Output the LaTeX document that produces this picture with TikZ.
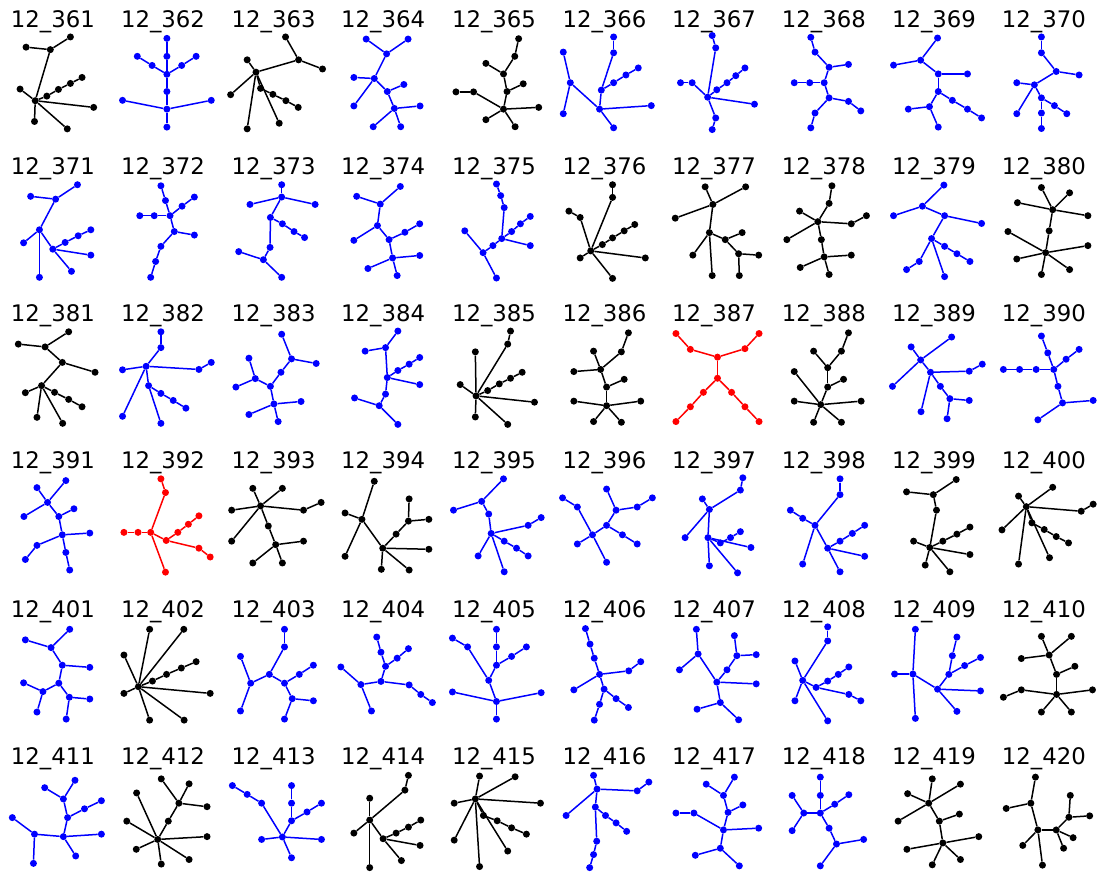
\documentclass[tikz,border=0pt]{standalone}
\usepackage{fontspec}
\setmainfont{DejaVu Sans}
\tikzset{
  dot/.style={circle,inner sep=0pt,minimum size=7pt,draw=none},
  ln/.style={line width=1.5pt},
  ttl/.style={anchor=base,inner sep=0pt,font=\fontsize{22.8}{27}\selectfont,text=black},
  zs/.style={x=0.3521pt,y=-0.3521pt}
}
\newcommand\gr[4]{%
  \foreach \n/\x/\y in {#3} \node[dot,fill=#2] (g#1\n) at (\x,\y) {};
  \foreach \p/\q in {#4} \draw[ln,#2] (g#1\p) -- (g#1\q);
}
\newcommand\ttlrow[3]{%
  \foreach \i/\tx in {#3} \node[ttl] (h\i) at (\tx,#2) {12\_\i};
}
\begin{document}
\begin{tikzpicture}
\useasboundingbox (0pt,0pt) rectangle (1105pt,-878pt);
% ---------------- row 1 left
\begin{scope}[shift={(0pt,6pt)},zs]
\ttlrow{}{95}{361/150,362/463,363/777,364/1088,365/1403}
\gr{361}{black}{a/200/122,b/143/158,c/74/151,d/100/303,e/57/270,f/133/290,g/166/271,h/200/254,i/233/237,j/266/322,k/98/362,l/191/383}{a/b,c/b,b/d,d/e,d/f,f/g,g/h,h/i,d/j,d/k,d/l}
\gr{362}{blue}{a/474/126,b/474/177,c/390/177,d/432/203,e/474/228,f/516/203,g/557/177,h/474/277,i/474/327,j/348/302,k/600/302,l/474/378}{a/b,b/e,c/d,d/e,e/f,f/g,e/h,h/i,i/j,i/k,i/l}
\gr{363}{black}{a/811/122,b/848/187,c/916/213,d/702/187,e/727/222,f/655/286,g/740/268,h/775/285,i/812/303,j/847/322,k/793/367,l/702/383}{a/b,b/c,b/e,d/e,e/f,e/g,g/h,h/i,i/j,e/k,e/l}
\gr{364}{blue}{a/1040/128,b/1159/128,c/1098/170,d/1063/240,e/1005/237,f/1005/318,g/1100/277,h/1147/257,i/1120/325,j/1193/318,k/1060/377,l/1138/377}{a/c,b/c,c/d,d/e,d/f,d/g,g/h,g/i,i/j,i/k,i/l}
\gr{365}{black}{a/1473/127,b/1462/177,c/1380/197,d/1430/227,e/1440/277,f/1486/255,g/1295/278,h/1345/278,i/1430/327,j/1530/322,k/1380/357,l/1463/377}{a/b,b/d,c/d,d/e,e/f,e/i,g/h,h/i,i/j,i/k,i/l}
\end{scope}
% ---------------- row 1 right
\begin{scope}[shift={(552pt,6pt)},zs]
\ttlrow{}{95}{366/149,367/460,368/772,369/1085,370/1397}
\gr{366}{blue}{a/175/122,b/175/167,c/32/165,d/52/252,e/140/273,f/175/252,g/210/230,h/245/210,i/135/327,j/282/317,k/32/340,l/175/380}{a/b,b/e,e/f,f/g,g/h,e/i,c/d,d/i,d/k,i/j,i/l}
\gr{367}{blue}{a/455/118,b/465/153,c/365/252,d/398/252,e/442/293,f/468/272,g/497/252,h/522/232,i/548/210,j/575/313,k/465/352,l/455/385}{a/b,b/e,c/d,d/e,e/f,f/g,g/h,h/i,e/j,e/k,k/l}
\gr{368}{blue}{a/735/123,b/747/165,c/787/208,d/842/200,e/688/252,f/732/252,g/773/252,h/787/295,i/842/305,j/877/332,k/747/338,l/735/380}{a/b,b/c,c/d,c/g,e/f,f/g,g/h,h/i,i/j,h/k,k/l}
\gr{369}{blue}{a/1095/125,b/1047/188,c/970/202,d/1097/227,e/1180/227,f/1097/277,g/1137/302,h/1180/327,i/1220/352,j/1072/320,k/1012/327,l/1097/378}{a/b,c/b,b/d,d/e,d/f,f/g,g/h,h/i,f/j,j/k,j/l}
\gr{370}{blue}{a/1390/122,b/1390/167,c/1432/220,d/1497/230,e/1370/258,f/1320/252,g/1320/340,h/1390/295,i/1427/317,j/1462/340,k/1390/338,l/1390/382}{a/b,b/c,c/d,c/e,f/e,e/g,e/h,h/i,i/j,h/k,k/l}
\end{scope}
% ---------------- row 2 left
\begin{scope}[shift={(0pt,-140pt)},zs]
\ttlrow{}{97}{371/150,372/463,373/777,374/1088,375/1403}
\gr{371}{blue}{a/220/127,b/158/168,c/87/160,d/112/255,e/67/292,f/150/310,g/185/291,h/222/272,i/258/255,j/258/327,k/203/373,l/112/390}{a/b,c/b,b/d,d/e,d/f,f/g,g/h,h/i,f/j,f/k,d/l}
\gr{372}{blue}{a/457/130,b/470/172,c/483/215,d/397/215,e/438/215,f/517/188,g/552/162,h/495/260,i/552/270,j/457/302,k/442/345,l/428/390}{a/b,b/c,d/e,e/c,c/f,f/g,c/h,h/i,h/j,j/k,k/l}
\gr{373}{blue}{a/800/127,b/800/162,c/710/183,d/895/183,e/768/220,f/802/238,g/835/260,h/865/277,i/767/305,j/678/317,k/748/340,l/800/390}{a/b,b/c,b/d,b/e,e/f,f/g,g/h,e/i,i/k,j/k,k/l}
\gr{374}{blue}{a/1013/160,b/1080/182,c/1137/132,d/1072/243,e/1005/285,f/1105/283,g/1150/262,h/1192/238,i/1115/335,j/1192/328,k/1045/365,l/1128/385}{a/b,c/b,b/d,d/e,d/f,f/g,g/h,f/i,i/j,i/k,i/l}
\gr{375}{blue}{a/1410/125,b/1422/158,c/1432/192,d/1425/280,e/1453/260,f/1478/238,g/1506/217,h/1506/300,i/1400/300,j/1372/320,k/1320/258,l/1410/392}{a/b,b/c,c/d,d/e,e/f,f/g,d/h,d/i,i/j,k/j,j/l}
\end{scope}
% ---------------- row 2 right
\begin{scope}[shift={(552pt,-140pt)},zs]
\ttlrow{}{97}{376/149,377/460,378/772,379/1085,380/1397}
\gr{376}{black}{a/172/127,b/172/163,c/48/202,d/80/220,e/110/315,f/143/297,g/172/278,h/205/258,i/235/240,j/265/335,k/80/335,l/172/393}{a/b,b/e,c/d,d/e,e/f,f/g,g/h,h/i,e/j,e/k,e/l}
\gr{377}{black}{a/435/133,b/550/133,c/457/183,d/350/222,e/447/263,f/400/327,g/455/385,h/492/283,i/540/263,j/530/323,k/587/327,l/532/385}{a/c,b/c,c/d,c/e,e/f,e/g,e/h,h/i,h/j,j/k,j/l}
\gr{378}{black}{a/795/130,b/787/180,c/703/202,d/755/232,e/850/238,f/893/215,g/667/283,h/765/283,i/773/332,j/850/327,k/705/362,l/787/382}{a/b,b/d,c/d,d/e,e/f,d/g,d/h,h/i,i/j,i/k,i/l}
\gr{379}{blue}{a/1113/128,b/1052/188,c/970/215,d/1115/215,e/1220/237,f/1078/280,g/1115/302,h/1150/323,i/1187/345,j/1043/345,k/1007/368,l/1115/388}{a/b,c/b,b/d,d/e,d/f,f/g,g/h,h/i,f/j,j/k,f/l}
\gr{380}{black}{a/1390/135,b/1470/150,c/1322/178,d/1422/198,e/1522/215,f/1412/258,g/1295/260,h/1402/320,i/1522/300,j/1320/338,k/1390/382,l/1470/368}{a/d,b/d,c/d,d/e,d/f,f/h,g/h,h/i,h/j,h/k,h/l}
\end{scope}
% ---------------- row 3 left
\begin{scope}[shift={(0pt,-286pt)},zs]
\ttlrow{}{100}{381/150,382/463,383/777,384/1088,385/1403}
\gr{381}{black}{a/195/130,b/128/173,c/52/165,d/177/217,e/270/245,f/118/283,g/72/303,h/155/302,i/195/322,j/233/343,k/105/373,l/178/390}{a/b,c/b,b/d,d/e,d/f,f/g,f/h,h/i,i/j,f/k,f/l}
\gr{382}{blue}{a/457/130,b/457/175,c/415/228,d/348/238,e/565/237,f/600/217,g/422/283,h/457/305,i/492/325,j/528/347,k/348/370,l/457/390}{a/b,b/c,c/d,c/e,e/f,c/g,g/h,h/i,i/j,c/k,g/l}
\gr{383}{blue}{a/800/137,b/828/207,c/898/220,d/798/245,e/768/285,f/707/205,g/725/263,h/670/287,i/778/335,j/855/328,k/707/365,l/790/385}{a/b,b/c,b/d,d/e,f/g,g/e,h/g,e/i,i/j,i/k,i/l}
\gr{384}{blue}{a/1130/128,b/1095/175,c/1037/185,d/1100/260,e/1130/240,f/1162/222,g/1192/203,h/1192/280,i/1095/307,j/1077/340,k/1007/318,l/1130/393}{a/b,c/b,b/d,d/e,e/f,f/g,d/h,d/i,i/j,k/j,j/l}
\gr{385}{black}{a/1450/128,b/1442/165,c/1350/187,d/1352/312,e/1307/280,f/1385/297,g/1418/278,h/1450/262,i/1483/245,j/1518/330,k/1350/372,l/1442/393}{a/b,b/d,c/d,e/d,d/f,f/g,g/h,h/i,d/j,d/k,d/l}
\end{scope}
% ---------------- row 3 right
\begin{scope}[shift={(552pt,-286pt)},zs]
\ttlrow{}{100}{386/149,387/460,388/772,389/1085,390/1397}
\gr{386}{black}{a/217/133,b/197/187,c/118/185,d/138/237,e/62/243,f/155/287,g/205/265,h/155/340,i/62/327,j/252/327,k/118/385,l/197/387}{a/b,b/d,c/d,e/d,d/f,f/g,f/h,h/i,h/j,h/k,h/l}
\gr{387}{red}{a/352/135,b/393/180,c/470/202,d/548/178,e/588/135,f/470/262,g/430/302,h/393/343,i/352/385,j/510/302,k/548/343,l/588/385}{a/b,b/c,c/d,d/e,c/f,f/g,g/h,h/i,f/j,j/k,k/l}
\gr{388}{black}{a/842/133,b/822/185,c/743/185,d/783/232,e/828/265,f/783/287,g/688/243,h/688/327,i/763/337,j/878/327,k/743/387,l/822/387}{a/b,b/d,c/d,d/f,f/e,f/i,g/i,h/i,i/j,i/k,i/l}
\gr{389}{blue}{a/1020/173,b/1135/145,c/1047/210,d/967/285,e/1075/245,f/1185/242,g/1222/222,h/1103/285,i/1130/320,j/1185/325,k/1048/357,l/1122/377}{a/c,b/c,c/d,c/e,e/f,f/g,e/h,h/i,i/j,i/l,e/k}
\gr{390}{blue}{a/1390/142,b/1408/190,c/1497/180,d/1460/208,e/1282/237,f/1328/237,g/1375/237,h/1425/237,i/1437/285,j/1450/332,k/1537/325,l/1380/380}{a/b,b/h,c/d,d/h,e/f,f/g,g/h,h/i,i/j,j/k,j/l}
\end{scope}
% ---------------- row 4 left
\begin{scope}[shift={(0pt,-432pt)},zs]
\ttlrow{}{105}{391/150,392/463,393/777,394/1088,395/1403}
\gr{391}{blue}{a/105/158,b/187/138,c/135/200,d/68/240,e/167/240,f/210/218,g/177/292,h/255/287,i/105/322,j/72/362,k/187/342,l/198/392}{a/c,b/c,c/d,c/e,e/f,e/g,g/h,g/i,i/j,g/k,k/l}
\gr{392}{red}{a/457/133,b/470/172,c/428/285,d/352/285,e/392/285,f/472/308,g/505/285,h/535/262,i/565/238,j/565/330,k/597/355,l/470/398}{a/b,b/c,d/e,e/c,c/f,f/g,g/h,h/i,f/j,j/k,c/l}
\gr{393}{black}{a/718/160,b/802/160,c/740/210,d/658/222,e/862/222,f/912/200,g/762/267,h/783/320,i/862/310,j/658/310,k/718/372,l/802/372}{a/c,b/c,d/c,c/e,e/f,c/j,c/g,g/h,h/i,h/k,h/l}
\gr{394}{black}{a/1063/140,b/980/230,c/1028/248,d/980/353,e/1162/190,f/1160/253,g/1218/248,h/1125/290,i/1087/330,j/1218/333,k/1083/390,l/1162/392}{a/c,b/c,c/d,c/i,e/f,f/g,f/h,h/i,i/j,i/k,i/l}
\gr{395}{blue}{a/1430/133,b/1368/197,c/1288/222,d/1388/233,e/1395/288,f/1500/265,g/1537/243,h/1432/310,i/1467/330,j/1500/352,k/1358/352,l/1432/397}{a/b,c/b,b/d,d/e,e/f,f/g,e/h,h/i,i/j,e/k,e/l}
\end{scope}
% ---------------- row 4 right
\begin{scope}[shift={(552pt,-432pt)},zs]
\ttlrow{}{105}{396/149,397/460,398/772,399/1085,400/1397}
\gr{396}{blue}{a/30/187,b/72/213,c/155/162,d/182/222,e/242/213,f/285/187,g/155/265,h/115/292,i/72/318,j/200/292,k/242/318,l/155/370}{a/b,b/h,c/d,d/e,e/f,d/g,g/h,g/j,j/k,h/i,h/l}
\gr{397}{blue}{a/542/130,b/535/165,c/427/190,d/447/220,e/378/300,f/443/300,g/478/315,h/507/300,i/535/283,j/565/328,k/447/380,l/527/400}{a/b,b/d,c/d,d/e,d/f,f/g,g/h,h/i,f/j,f/k,f/l}
\gr{398}{blue}{a/818/133,b/818/178,c/677/222,d/712/245,e/747/265,f/712/375,g/783/330,h/818/310,i/853/288,j/888/265,k/888/353,l/818/397}{a/b,b/e,c/d,d/e,e/f,e/g,g/h,h/i,i/j,g/k,g/l}
\gr{399}{black}{a/1148/135,b/1083/178,c/1007/170,d/1092/222,e/1027/310,f/1073/328,g/1110/310,h/1150/290,i/1187/270,j/1187/348,k/1060/378,l/1130/397}{a/b,c/b,b/d,d/f,e/f,f/g,g/h,h/i,f/j,f/k,f/l}
\gr{400}{black}{a/1422/157,b/1325/182,c/1347/212,d/1503/225,e/1537/205,f/1278/278,g/1363/258,h/1398/277,i/1432/297,j/1467/315,k/1413/357,l/1325/375}{a/c,b/c,c/d,d/e,c/f,c/g,g/h,h/i,i/j,c/k,c/l}
\end{scope}
% ---------------- row 5 left
\begin{scope}[shift={(0pt,-580pt)},zs]
\ttlrow{}{107}{401/150,402/463,403/777,404/1088,405/1403}
\gr{401}{blue}{a/198/140,b/72/170,c/145/192,d/177/242,e/255/248,f/167/293,g/67/292,h/122/317,i/105/375,j/197/333,k/255/338,l/188/395}{a/c,b/c,c/d,d/e,d/f,f/h,g/h,h/i,f/j,j/k,j/l}
\gr{402}{black}{a/425/140,b/522/140,c/352/213,d/393/303,e/352/322,f/433/287,g/473/268,h/515/250,i/557/232,j/597/322,k/425/398,l/523/398}{d/a,d/b,d/c,d/e,d/f,f/g,g/h,h/i,d/j,d/k,d/l}
\gr{403}{blue}{a/808/140,b/808/190,c/683/217,d/765/268,e/712/293,f/683/372,g/808/293,h/850/268,i/890/242,j/830/337,k/890/343,l/808/395}{a/b,b/d,c/e,e/d,e/f,d/g,g/h,h/i,g/j,j/k,j/l}
\gr{404}{blue}{a/1070/162,b/1082/205,c/1095/245,d/1128/222,e/1160/195,f/968/247,g/1025/297,h/1082/288,i/1162/298,j/1195/325,k/1228/348,l/1055/372}{a/b,b/c,c/d,d/e,c/h,f/g,g/h,h/i,i/j,j/k,g/l}
\gr{405}{blue}{a/1410/140,b/1410/190,c/1410/242,d/1453/217,e/1495/190,f/1285/165,g/1328/190,h/1388/285,i/1410/345,j/1285/318,k/1537/320,l/1410/395}{a/b,b/c,c/d,d/e,c/h,f/g,g/h,h/i,i/j,i/k,i/l}
\end{scope}
% ---------------- row 5 right
\begin{scope}[shift={(552pt,-580pt)},zs]
\ttlrow{}{107}{406/149,407/460,408/772,409/1085,410/1397}
\gr{406}{blue}{a/95/138,b/108/182,c/120/222,d/135/268,e/218/258,f/252/232,g/62/312,h/148/310,i/182/337,j/217/362,k/135/353,l/120/398}{a/b,b/c,c/d,d/e,e/f,d/g,d/h,h/i,i/j,h/k,k/l}
\gr{407}{blue}{a/410/140,b/415/210,c/362/255,d/468/290,e/518/158,f/525/215,g/580/212,h/497/255,i/580/295,j/478/348,k/412/367,l/530/397}{a/b,b/c,b/d,e/f,f/g,f/h,h/d,d/i,d/j,j/k,j/l}
\gr{408}{blue}{a/783/133,b/783/173,c/690/230,d/712/285,e/690/343,f/750/305,g/783/287,h/813/268,i/843/247,j/843/325,k/877/343,l/783/400}{a/b,b/d,c/d,d/e,d/f,f/g,g/h,h/i,f/j,j/k,d/l}
\gr{409}{blue}{a/1032/140,b/1025/267,c/973/267,d/1032/393,e/1150/162,f/1137/215,g/1127/268,h/1172/243,i/1217/220,j/1095/310,k/1217/315,l/1150/373}{a/b,c/b,b/d,b/j,e/f,f/g,g/j,g/h,h/i,j/k,j/l}
\gr{410}{black}{a/1390/160,b/1475/160,c/1412/213,d/1333/223,e/1433/268,f/1485/245,g/1433/325,h/1333/312,i/1282/333,j/1535/312,k/1390/375,l/1475/375}{a/c,b/c,d/c,c/e,e/f,e/g,g/h,h/i,g/j,g/k,g/l}
\end{scope}
% ---------------- row 6 left
\begin{scope}[shift={(0pt,-725pt)},zs]
\ttlrow{}{112}{411/150,412/463,413/777,414/1088,415/1403}
\gr{411}{blue}{a/213/157,b/127/178,c/180/210,d/192/263,e/240/238,f/288/215,g/35/263,h/98/310,i/180/317,j/288/310,k/95/393,l/215/372}{a/c,b/c,c/d,d/e,e/f,d/i,g/h,h/i,h/k,i/j,i/l}
\gr{412}{black}{a/458/153,b/537/167,c/508/222,d/388/193,e/588/232,f/478/273,g/360/273,h/448/325,i/588/317,j/387/353,k/537/382,l/458/395}{a/c,b/c,c/e,c/f,f/h,d/h,g/h,h/i,h/j,h/k,h/l}
\gr{413}{blue}{a/660/172,b/702/197,c/743/222,d/828/172,e/828/222,f/828/272,g/872/247,h/913/222,i/802/318,j/743/325,k/913/325,l/828/377}{a/b,b/c,c/i,d/e,e/f,f/g,g/h,f/i,i/j,i/k,i/l}
\gr{414}{black}{a/1160/143,b/1150/185,c/1050/208,d/1050/270,e/1005/307,f/1088/323,g/1125/307,h/1160/290,i/1195/270,j/1193/342,k/1140/385,l/1050/405}{a/b,b/d,c/d,d/e,d/f,f/g,g/h,h/i,f/j,f/k,d/l}
\gr{415}{black}{a/1362/145,b/1463/147,c/1350/210,d/1290/222,e/1535/222,f/1373/257,g/1412/272,h/1453/292,i/1495/310,j/1290/327,k/1442/358,l/1362/402}{a/c,b/c,d/c,c/e,c/f,f/g,g/h,h/i,c/j,c/k,c/l}
\end{scope}
% ---------------- row 6 right
\begin{scope}[shift={(552pt,-725pt)},zs]
\ttlrow{}{112}{416/149,417/460,418/772,419/1085,420/1397}
\gr{416}{blue}{a/118/143,b/128/182,c/242/187,d/275/162,e/40/257,f/123/233,g/152/257,h/182/278,i/212/302,j/127/330,k/118/368,l/107/405}{a/b,b/c,c/d,b/e,b/f,f/g,g/h,h/i,f/j,j/k,k/l}
\gr{417}{blue}{a/438/168,b/518/148,c/487/200,d/542/227,e/500/248,f/352/250,g/403/250,h/487/298,i/587/293,j/478/350,k/407/370,l/532/400}{a/c,b/c,c/e,e/d,e/h,f/g,g/h,h/i,h/j,j/k,j/l}
\gr{418}{blue}{a/762/148,b/762/200,c/843/198,d/803/225,e/682/200,f/715/250,g/762/250,h/682/300,i/787/293,j/808/338,k/885/325,l/762/400}{a/b,b/g,c/d,d/g,e/f,f/g,f/h,g/i,i/j,j/k,j/l}
\gr{419}{black}{a/1080/153,b/1160/168,c/1010/195,d/1070/222,e/983/273,f/1100/273,g/1157/253,h/1110/335,i/1212/317,j/1008/353,k/1080/397,l/1160/382}{a/d,b/d,c/d,d/e,d/f,f/g,f/h,h/i,h/j,h/k,h/l}
\gr{420}{black}{a/1373/148,b/1360/222,c/1290/237,d/1380/298,e/1472/200,f/1468/262,g/1527/258,h/1432/298,i/1480/320,j/1453/350,k/1337/342,l/1393/398}{a/b,c/b,b/d,e/f,f/g,f/h,h/d,h/i,h/j,d/k,d/l}
\end{scope}
\end{tikzpicture}
\end{document}
